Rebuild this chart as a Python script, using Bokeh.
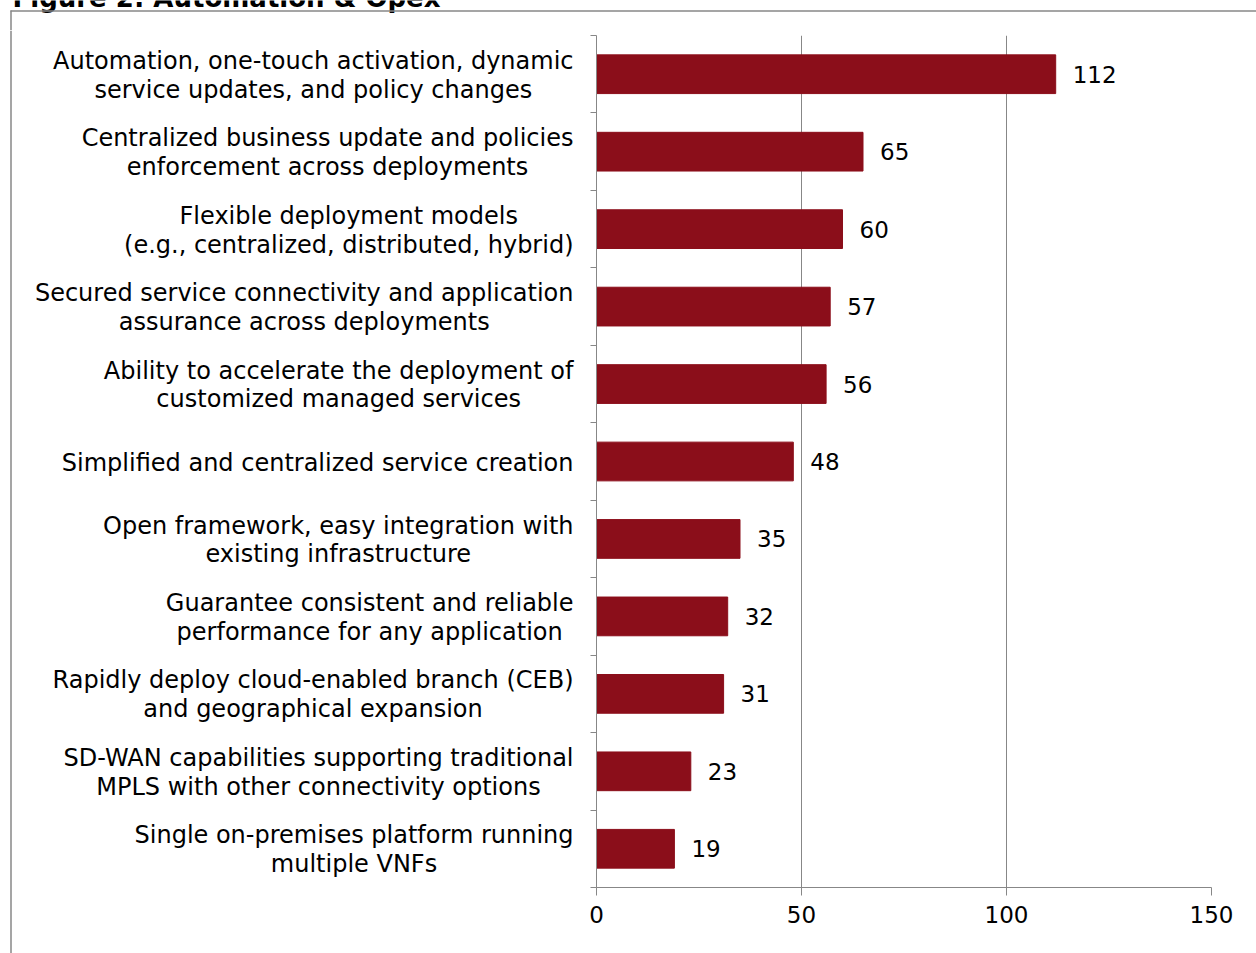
from bokeh.plotting import figure
from bokeh.layouts import column, row
from bokeh.models import FixedTicker, ColumnDataSource, Range1d
from bokeh.embed import file_html
from bokeh.resources import INLINE
from bokeh.core.properties import value

title_text = "Figure 2: Automation & Opex"
categories = [
    "Automation, one-touch activation, dynamic\nservice updates, and policy changes",
    "Centralized business update and policies\nenforcement across deployments",
    "Flexible deployment models\n(e.g., centralized, distributed, hybrid)",
    "Secured service connectivity and application\nassurance across deployments",
    "Ability to accelerate the deployment of\ncustomized managed services",
    "Simplified and centralized service creation",
    "Open framework, easy integration with\nexisting infrastructure",
    "Guarantee consistent and reliable\nperformance for any application",
    "Rapidly deploy cloud-enabled branch (CEB)\nand geographical expansion",
    "SD-WAN capabilities supporting traditional\nMPLS with other connectivity options",
    "Single on-premises platform running\nmultiple VNFs",
]
values = [112, 65, 60, 57, 56, 48, 35, 32, 31, 23, 19]
x_ticks = [0, 50, 100, 150]

FONT = "DejaVu Sans"
FS = "23px"
FS_CAT = "24px"
FS_TITLE = "26px"
BAR = "#8B0E1A"
GRAY = "#878787"

W, H = 1256, 953
TOP_H = 30            # strip holding the cut-off title and the box's top-left corner
LAB_W = 576           # label panel width
B_LEFT, B_RIGHT, B_TOP, B_BOTTOM = 20, 45, 5, 66

n = len(categories)
pos = [n - i for i in range(n)]
src = ColumnDataSource(dict(pos=pos, val=values, lab=[str(v) for v in values],
                            cat=categories))

def bare(w, h, xr, yr):
    f = figure(width=w, height=h, x_range=xr, y_range=yr, output_backend="svg",
               toolbar_location=None, x_axis_type=None, y_axis_type=None,
               min_border_left=0, min_border_right=0, min_border_top=0, min_border_bottom=0,
               frame_align=False)
    f.outline_line_color = None
    f.grid.grid_line_color = None
    f.background_fill_color = "white"
    f.border_fill_color = "white"
    return f

# --- top strip: title (cut off by the page edge) and top edge of the box
top = bare(W, TOP_H, Range1d(0, W), Range1d(TOP_H, 0))   # y grows downward (pixels)
top.text(x=[12], y=[-3], text=[title_text], text_align="left",
         text_baseline="alphabetic", text_font=value(FONT), text_font_size=FS_TITLE,
         text_font_style="bold", text_color="black")
top.segment(x0=[10], x1=[W], y0=[10.5], y1=[10.5], line_color=GRAY, line_width=1.5)
top.segment(x0=[10.5], x1=[10.5], y0=[10], y1=[TOP_H], line_color=GRAY, line_width=1.5)

# --- bar chart
BH = H - TOP_H
bars = figure(width=W - LAB_W, height=BH, x_range=Range1d(x_ticks[0], x_ticks[-1]),
              y_range=Range1d(0.5, n + 0.5), output_backend="svg", toolbar_location=None,
              min_border_left=B_LEFT, min_border_right=B_RIGHT,
              min_border_top=B_TOP, min_border_bottom=B_BOTTOM, frame_align=False)
bars.outline_line_color = None
bars.background_fill_color = "white"
bars.border_fill_color = "white"

bars.xaxis.ticker = FixedTicker(ticks=x_ticks)
bars.xaxis.axis_line_color = GRAY
bars.xaxis.major_tick_line_color = GRAY
bars.xaxis.major_tick_out = 8
bars.xaxis.major_tick_in = 0
bars.xaxis.minor_tick_line_color = None
bars.xaxis.major_label_text_font = FONT
bars.xaxis.major_label_text_font_size = FS
bars.xaxis.major_label_text_color = "black"
bars.xaxis.major_label_standoff = 10

bounds = [k + 0.5 for k in range(n + 1)]
bars.yaxis.ticker = FixedTicker(ticks=bounds)
bars.yaxis.major_label_overrides = {b: "" for b in bounds}
bars.yaxis.major_label_text_font_size = "0px"
bars.yaxis.axis_line_color = GRAY
bars.yaxis.major_tick_line_color = GRAY
bars.yaxis.major_tick_out = 6
bars.yaxis.major_tick_in = 0
bars.yaxis.minor_tick_line_color = None

bars.ygrid.grid_line_color = None
bars.xgrid.ticker = FixedTicker(ticks=x_ticks)
bars.xgrid.grid_line_color = GRAY

bars.hbar(y="pos", left=0, right="val", height=0.5, source=src,
          fill_color=BAR, line_color=BAR)
bars.text(x="val", y="pos", text="lab", source=src, x_offset=17,
          text_baseline="middle", text_align="left",
          text_font=value(FONT), text_font_size=FS, text_color="black")

# --- category labels, aligned with the bar chart's bands
frame_h = BH - B_TOP - B_BOTTOM
band = frame_h / n
lab_range = Range1d(0.5 - B_BOTTOM / band, n + 0.5 + B_TOP / band)
labels = bare(LAB_W, BH, Range1d(0, LAB_W), lab_range)
labels.text(x=LAB_W - 3, y="pos", text="cat", source=src, text_align="center",
            text_baseline="middle", anchor=value("center_right"), y_offset=1,
            text_font=value(FONT), text_font_size=FS_CAT, text_line_height=1.03,
            text_color="black")
labels.segment(x0=[10.5], x1=[10.5], y0=[lab_range.start], y1=[lab_range.end],
               line_color=GRAY, line_width=1.5)

layout = column(top, row(labels, bars, spacing=0), spacing=0)
open("out.html", "w").write(file_html(layout, INLINE))
